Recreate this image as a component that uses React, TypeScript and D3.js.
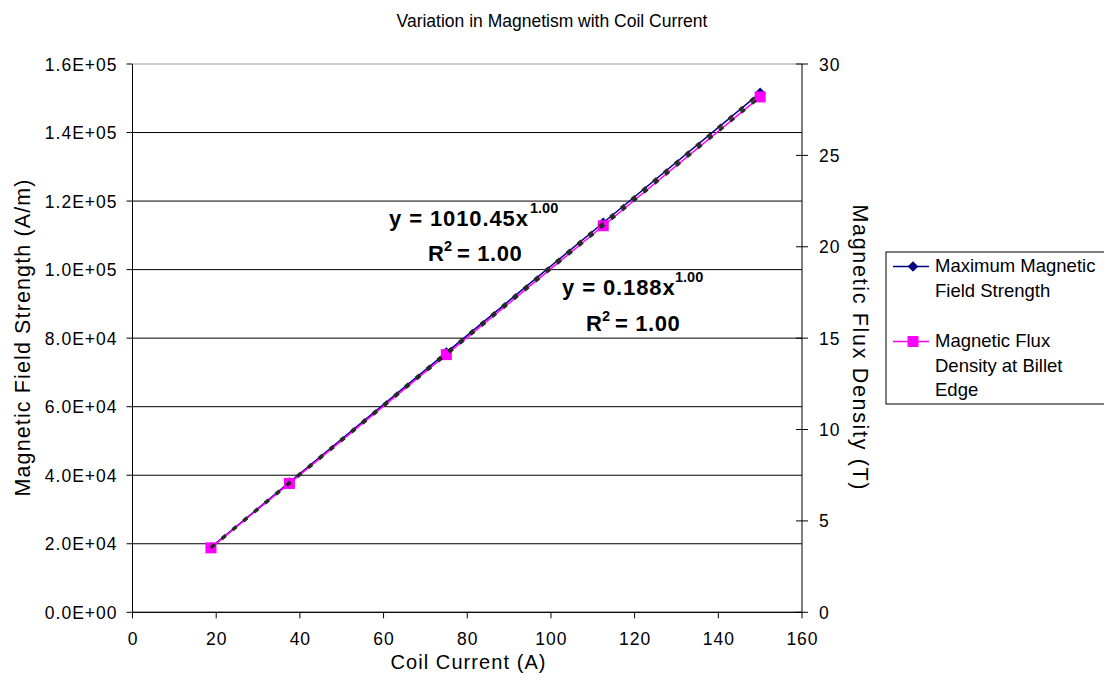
import React from "react";
import * as d3 from "d3";

const coilCurrent = [18.75, 37.5, 75, 112.5, 150];
const fieldStrength = [18947, 37892, 75784, 113676, 151568];
const fluxDensity = [3.525, 7.05, 14.1, 21.15, 28.2];
const xTicks = [0, 20, 40, 60, 80, 100, 120, 140, 160];
const leftTicks = [0, 20000, 40000, 60000, 80000, 100000, 120000, 140000, 160000];
const rightTicks = [0, 5, 10, 15, 20, 25, 30];
const fitField = { a: 1010.45, b: 1.0 };
const fitFlux = { a: 0.188, b: 1.0 };

const W = 1104, H = 683;
const L = 132.5, R = 802, T = 64, B = 612.3;
const FONT = "'Liberation Sans', Arial, sans-serif";

const fmtE = (v: number) => {
  const e = v === 0 ? 0 : Math.floor(Math.log10(v));
  const m = v / Math.pow(10, e);
  return `${m.toFixed(1)}E+${String(e).padStart(2, "0")}`;
};

export default function App() {
  const x = d3.scaleLinear().domain([0, 160]).range([L, R]);
  const yL = d3.scaleLinear().domain([0, 160000]).range([B, T]);
  const yR = d3.scaleLinear().domain([0, 30]).range([B, T]);

  const idx = coilCurrent.map((_, i) => i);
  const lineField = d3.line<number>().x((i) => x(coilCurrent[i])).y((i) => yL(fieldStrength[i]));
  const lineFlux = d3.line<number>().x((i) => x(coilCurrent[i])).y((i) => yR(fluxDensity[i]));
  const xs = d3.range(0, 41).map((k) => 18.75 + (150 - 18.75) * (k / 40));
  const trendField = d3.line<number>().x((v) => x(v)).y((v) => yL(fitField.a * Math.pow(v, fitField.b)));
  const trendFlux = d3.line<number>().x((v) => x(v)).y((v) => yR(fitFlux.a * Math.pow(v, fitFlux.b)));

  const diamond = d3.symbol().type(d3.symbolDiamond2).size(72)()!;
  const navy = "#000080";
  const pink = "#FF00FF";
  const tickStyle = { letterSpacing: "1px" };

  return (
    <svg width={W} height={H} style={{ position: "absolute", left: 0, top: 0, background: "#fff" }} fontFamily={FONT}>
      <rect width={W} height={H} fill="#fff" />
      <text x={552} y={27} textAnchor="middle" fontSize={17.5}>Variation in Magnetism with Coil Current</text>

      {leftTicks.map((t) => (
        <line key={"g" + t} x1={L} x2={R} y1={yL(t)} y2={yL(t)} stroke={t === 160000 ? "#999" : "#000"} strokeWidth={1} />
      ))}
      <line x1={L} x2={L} y1={T} y2={B} stroke="#000" />
      <line x1={R} x2={R} y1={T} y2={B} stroke="#000" />
      <line x1={L} x2={R} y1={B} y2={B} stroke="#000" />

      {leftTicks.map((t) => (
        <g key={"l" + t}>
          <line x1={L - 6} x2={L} y1={yL(t)} y2={yL(t)} stroke="#000" />
          <text x={L - 15} y={yL(t) + 6.5} textAnchor="end" fontSize={17.5} style={tickStyle}>{fmtE(t)}</text>
        </g>
      ))}
      {rightTicks.map((t) => (
        <g key={"r" + t}>
          <line x1={R - 6} x2={R + 6} y1={yR(t)} y2={yR(t)} stroke="#000" />
          <text x={R + 17} y={yR(t) + 6.5} textAnchor="start" fontSize={17.5} style={tickStyle}>{t}</text>
        </g>
      ))}
      {xTicks.map((t) => (
        <g key={"x" + t}>
          <line x1={x(t)} x2={x(t)} y1={B} y2={B + 6} stroke="#000" />
          <text x={x(t) + 0.5} y={B + 33} textAnchor="middle" fontSize={17.5} style={tickStyle}>{t}</text>
        </g>
      ))}

      <text x={468} y={669} textAnchor="middle" fontSize={20} textLength={155} lengthAdjust="spacing">Coil Current (A)</text>
      <text transform={`translate(30,338) rotate(-90)`} textAnchor="middle" fontSize={21.5} textLength={317} lengthAdjust="spacing">Magnetic Field Strength (A/m)</text>
      <text transform={`translate(853,347) rotate(90)`} textAnchor="middle" fontSize={21.5} textLength={285} lengthAdjust="spacing">Magnetic Flux Density (T)</text>

      <path d={lineField(idx)!} fill="none" stroke={navy} strokeWidth={1.5} />
      {idx.map((i) => (
        <path key={"d" + i} d={diamond} transform={`translate(${x(coilCurrent[i])},${yL(fieldStrength[i])})`} fill={navy} />
      ))}
      <path d={lineFlux(idx)!} fill="none" stroke={pink} strokeWidth={1.5} />
      {idx.map((i) => (
        <rect key={"s" + i} x={x(coilCurrent[i]) - 5.5} y={yR(fluxDensity[i]) - 5.5} width={11} height={11} fill={pink} />
      ))}
      <path d={trendField(xs)!} fill="none" stroke="#2a2a2a" strokeWidth={3} strokeDasharray="5 9" />
      <path d={trendFlux(xs)!} fill="none" stroke="#2a2a2a" strokeWidth={3} strokeDasharray="5 9" />

      <g fontSize={22} fontWeight="bold">
        <text x={389} y={226} style={{ letterSpacing: "0.9px" }}>y = 1010.45x</text>
        <text x={530} y={213} fontSize={14.5}>1.00</text>
        <text x={428} y={261}>R</text>
        <text x={444} y={251} fontSize={14.5}>2</text>
        <text x={457} y={261} style={{ letterSpacing: "0.6px" }}>= 1.00</text>
        <text x={562} y={295} style={{ letterSpacing: "0.9px" }}>y = 0.188x</text>
        <text x={675} y={282} fontSize={14.5}>1.00</text>
        <text x={586} y={331}>R</text>
        <text x={602} y={321} fontSize={14.5}>2</text>
        <text x={615} y={331} style={{ letterSpacing: "0.6px" }}>= 1.00</text>
      </g>

      <g>
        <rect x={886} y={252} width={230} height={152} fill="#fff" stroke="#000" />
        <line x1={893} x2={929} y1={266.5} y2={266.5} stroke={navy} strokeWidth={1.5} />
        <path d={diamond} transform="translate(913,266.5)" fill={navy} />
        <line x1={893} x2={929} y1={341.5} y2={341.5} stroke={pink} strokeWidth={1.5} />
        <rect x={907.5} y={336} width={11} height={11} fill={pink} />
        <g fontSize={18.5}>
          <text x={935} y={272}>Maximum Magnetic</text>
          <text x={935} y={297}>Field Strength</text>
          <text x={935} y={347}>Magnetic Flux</text>
          <text x={935} y={372}>Density at Billet</text>
          <text x={935} y={396}>Edge</text>
        </g>
      </g>
    </svg>
  );
}
